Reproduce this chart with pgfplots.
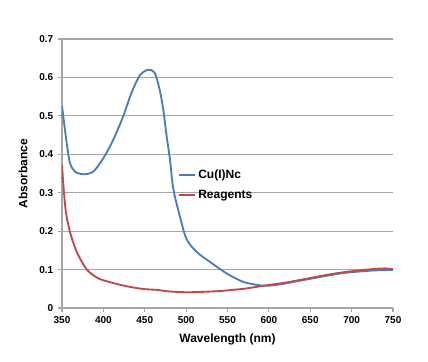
\documentclass[border=0pt]{standalone}
\usepackage{pgfplots}
\pgfplotsset{compat=1.18}
\usepackage{fontspec}
\setmainfont{Liberation Sans}
\definecolor{cublue}{HTML}{4A7EBB}
\definecolor{rered}{HTML}{BE4B48}
\definecolor{gridgray}{HTML}{A6A6A6}
\begin{document}
\begin{tikzpicture}
\begin{axis}[
  scale only axis,
  width=248.25pt, height=201.75pt,
  xmin=350, xmax=750, ymin=0, ymax=0.7,
  xtick={350,400,...,750}, ytick={0,0.1,...,0.7},
  yticklabels={0,0.1,0.2,0.3,0.4,0.5,0.6,0.7},
  axis x line*=bottom, axis y line*=left,
  axis line style={gridgray, line width=1pt, -},
  ymajorgrids, grid style={gridgray, line width=0.8pt},
  tick style={gridgray, line width=0.8pt},
  tick align=outside, major tick length=3pt,
  ticklabel style={font=\fontsize{7.5}{8}\selectfont\bfseries},
  /pgf/number format/assume math mode=true,
  xlabel={Wavelength (nm)}, ylabel={Absorbance},
  label style={font=\fontsize{9}{10}\selectfont\bfseries},
  xlabel style={yshift=-1pt},
  ylabel style={yshift=2pt},
  legend style={at={(axis cs:488,0.37)}, anchor=north west, draw=none, fill=none,
    font=\fontsize{9}{10}\selectfont\bfseries, row sep=3pt, inner sep=1pt},
  legend cell align=left,
  legend image code/.code={\draw[#1] (0pt,0pt) -- (12pt,0pt);},
]
\addplot[cublue, line width=1.4pt, smooth, tension=0.5] coordinates {
(350,0.525) (355.7,0.429) (359.7,0.377) (365.7,0.355) (375.8,0.348) (387.8,0.355)
(400,0.39) (412,0.438) (424,0.499) (434,0.56) (444,0.605) (454,0.62) (462,0.612)
(468,0.568) (472.4,0.516) (476.5,0.446) (480.5,0.386) (484.5,0.31) (492.5,0.238)
(500.6,0.179) (512.7,0.146) (528.8,0.12) (549,0.09) (569,0.068) (589,0.059)
(600,0.058) (615,0.062) (630,0.068) (650,0.076) (670,0.084)
(690,0.091) (710,0.095) (730,0.098) (750,0.099)
};
\addlegendentry{Cu(I)Nc}
\addplot[rered, line width=1.4pt, smooth, tension=0.5] coordinates {
(350,0.373) (352,0.31) (355,0.245) (360,0.195) (364,0.168) (368,0.145) (374,0.12)
(380,0.1) (388,0.085) (396,0.075) (410,0.066) (425,0.058) (440,0.052) (450,0.049)
(465,0.047) (480,0.043) (500,0.041) (520,0.042) (540,0.044) (555,0.047) (570,0.050)
(585,0.055) (600,0.060) (620,0.066) (650,0.078) (670,0.086) (690,0.093) (710,0.098)
(730,0.102) (740,0.103) (750,0.101)
};
\addlegendentry{Reagents}
\coordinate (ll) at (rel axis cs:0,0);
\coordinate (ur) at (rel axis cs:1,1);
\end{axis}
\pgfresetboundingbox
\useasboundingbox ([shift={(-46.5pt,-40.5pt)}]ll) rectangle ([shift={(26.25pt,29.25pt)}]ur);
\end{tikzpicture}
\end{document}
